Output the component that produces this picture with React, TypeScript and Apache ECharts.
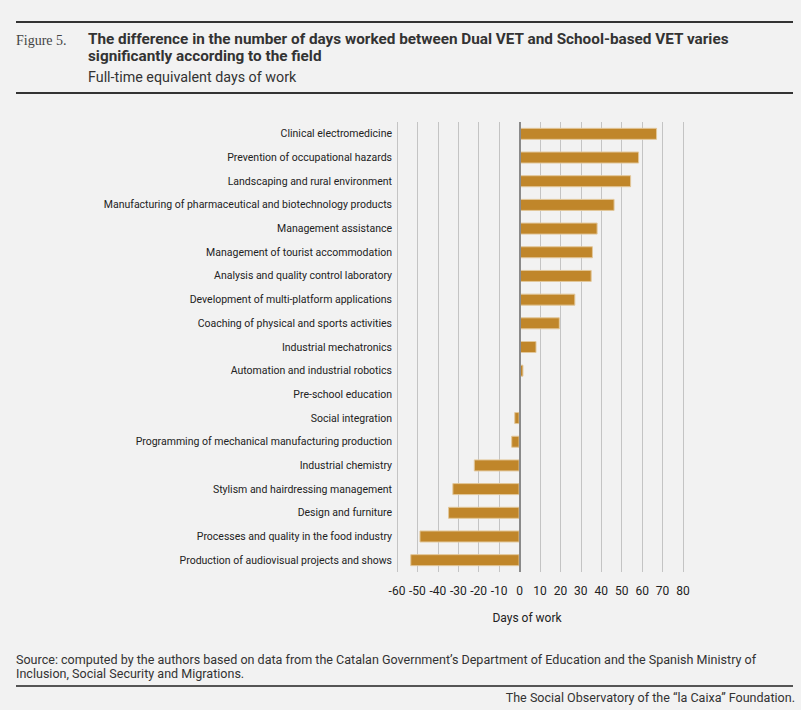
import { useEffect, useRef } from "react";
import * as echarts from "echarts";

const fields = [
  "Clinical electromedicine",
  "Prevention of occupational hazards",
  "Landscaping and rural environment",
  "Manufacturing of pharmaceutical and biotechnology products",
  "Management assistance",
  "Management of tourist accommodation",
  "Analysis and quality control laboratory",
  "Development of multi-platform applications",
  "Coaching of physical and sports activities",
  "Industrial mechatronics",
  "Automation and industrial robotics",
  "Pre-school education",
  "Social integration",
  "Programming of mechanical manufacturing production",
  "Industrial chemistry",
  "Stylism and hairdressing management",
  "Design and furniture",
  "Processes and quality in the food industry",
  "Production of audiovisual projects and shows",
];

const daysDiff = [
  67.3, 58.5, 54.6, 46.5, 38.2, 35.9, 35.3, 27.3, 19.7, 8.3, 1.9, 0.3, -2.6,
  -4.1, -22.4, -32.9, -35, -49, -53.5,
];

const xTicks = { min: -60, max: 80, step: 10 };

const BG = "#f2f2f2";
const BAR = "#c0862a";
const TEXT = "#222";
const SANS = "Roboto, 'Noto Sans', sans-serif";

const App = () => {
  const chartRef = useRef<HTMLDivElement>(null);

  useEffect(() => {
    document.body.style.margin = "0";
    if (!chartRef.current) return;
    const chart = echarts.init(chartRef.current, undefined, { renderer: "svg" });

    const option: echarts.EChartsOption = {
      animation: false,
      backgroundColor: BG,
      grid: { left: 397, right: 118, top: 122, bottom: 138, containLabel: false },
      xAxis: {
        type: "value",
        min: xTicks.min,
        max: xTicks.max,
        interval: xTicks.step,
        axisLine: { show: false },
        axisTick: { show: false },
        axisLabel: { color: TEXT, fontFamily: SANS, fontSize: 12, margin: 13 },
        splitLine: { lineStyle: { color: "#c4c4c4", width: 1 } },
      },
      yAxis: {
        type: "category",
        data: fields,
        inverse: true,
        axisLine: { show: false },
        axisTick: { show: false },
        axisLabel: { color: TEXT, fontFamily: SANS, fontSize: 10.5, margin: 5 },
      },
      graphic: [
        { type: "line", shape: { x1: 16, y1: 22, x2: 793, y2: 22 }, style: { stroke: "#333", lineWidth: 2 } },
        { type: "line", shape: { x1: 16, y1: 93, x2: 793, y2: 93 }, style: { stroke: "#333", lineWidth: 2 } },
        {
          type: "text", x: 16, y: 40,
          style: { text: "Figure 5.", fill: "#444", font: "14px 'Liberation Serif', serif", verticalAlign: "middle" },
        },
        {
          type: "text", x: 88, y: 39,
          style: {
            text: "The difference in the number of days worked between Dual VET and School-based VET varies",
            fill: "#333", font: "bold 15.3px Roboto, sans-serif", verticalAlign: "middle",
          },
        },
        {
          type: "text", x: 88, y: 56,
          style: { text: "significantly according to the field", fill: "#333", font: "bold 15.3px Roboto, sans-serif", verticalAlign: "middle" },
        },
        {
          type: "text", x: 88, y: 77,
          style: { text: "Full-time equivalent days of work", fill: "#333", font: "14.3px Roboto, sans-serif", verticalAlign: "middle" },
        },
        {
          type: "text", x: 527, y: 618,
          style: { text: "Days of work", fill: TEXT, font: "12px Roboto, sans-serif", verticalAlign: "middle", align: "center" },
        },
        {
          type: "text", x: 16, y: 659,
          style: {
            text: "Source: computed by the authors based on data from the Catalan Government\u2019s Department of Education and the Spanish Ministry of",
            fill: "#333", font: "12.55px Roboto, sans-serif", verticalAlign: "middle",
          },
        },
        {
          type: "text", x: 16, y: 673,
          style: { text: "Inclusion, Social Security and Migrations.", fill: "#333", font: "12.55px Roboto, sans-serif", verticalAlign: "middle" },
        },
        { type: "line", shape: { x1: 16, y1: 686, x2: 793, y2: 686 }, style: { stroke: "#555", lineWidth: 2 } },
        {
          type: "text", x: 795, y: 697,
          style: {
            text: "The Social Observatory of the \u201cla Caixa\u201d Foundation.",
            fill: "#333", font: "12.55px Roboto, sans-serif", verticalAlign: "middle", align: "right",
          },
        },
      ],
      series: [
        {
          type: "bar",
          data: daysDiff,
          barWidth: 12,
          itemStyle: { color: BAR, borderColor: "#e2c79a", borderWidth: 1 },
          markLine: {
            silent: true,
            symbol: "none",
            label: { show: false },
            lineStyle: { color: "#8a8a8a", width: 2, type: "solid" },
            data: [{ xAxis: 0 }],
          },
        },
      ],
    };

    chart.setOption(option);
    return () => chart.dispose();
  }, []);

  return <div ref={chartRef} style={{ width: 801, height: 710 }} />;
};

export default App;
